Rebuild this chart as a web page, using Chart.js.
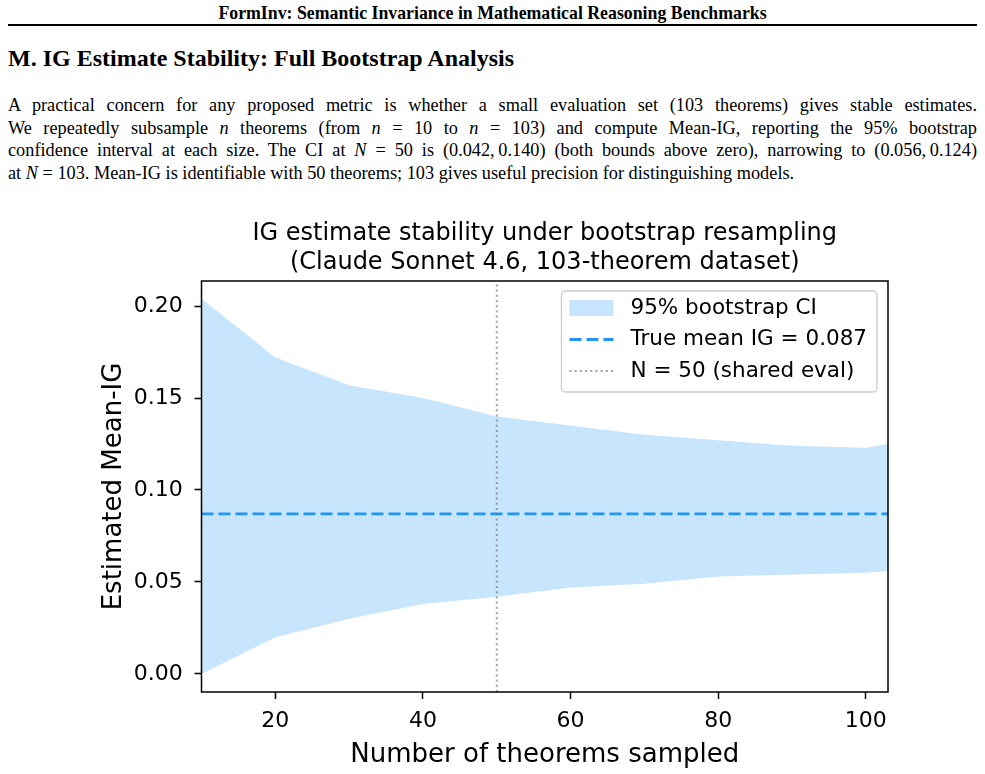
<!DOCTYPE html>
<html>
<head>
<meta charset="utf-8">
<script src="https://cdn.jsdelivr.net/npm/chart.js@4.4.1/dist/chart.umd.min.js"></script>
<style>
  body { margin: 0; background: #fff; width: 985px; height: 774px; position: relative; overflow: hidden; }
  .serif { font-family: "Liberation Serif", "Times New Roman", serif; color: #000; }
  .runhead { position: absolute; top: 3px; left: 0; width: 985px; text-align: center; font-weight: bold; font-size: 17.8px; line-height: 20px; }
  .rule { position: absolute; top: 24px; left: 8px; width: 969px; height: 2px; background: #000; }
  .section { position: absolute; top: 44px; left: 8px; font-weight: bold; font-size: 24px; line-height: 28px; }
  .line { position: absolute; left: 8px; width: 969px; font-size: 18.3px; line-height: 22px; white-space: nowrap; }
  .just { text-align: justify; text-align-last: justify; white-space: normal; }
  .chart-render { position: absolute; left: 0; top: 200px; width: 985px; height: 574px; }
</style>
</head>
<body>
<div class="serif runhead">FormInv: Semantic Invariance in Mathematical Reasoning Benchmarks</div>
<div class="rule"></div>
<div class="serif section">M. IG Estimate Stability: Full Bootstrap Analysis</div>
<div class="serif line just" style="top:94px">A practical concern for any proposed metric is whether a small evaluation set (103 theorems) gives stable estimates.</div>
<div class="serif line just" style="top:117px">We repeatedly subsample <i>n</i> theorems (from <i>n</i>&nbsp;=&nbsp;10 to <i>n</i>&nbsp;=&nbsp;103) and compute Mean-IG, reporting the 95% bootstrap</div>
<div class="serif line just" style="top:139px">confidence interval at each size. The CI at <i>N</i>&nbsp;=&nbsp;50 is (0.042,&thinsp;0.140) (both bounds above zero), narrowing to (0.056,&thinsp;0.124)</div>
<div class="serif line" style="top:162px">at <i>N</i>&nbsp;=&nbsp;103. Mean-IG is identifiable with 50 theorems; 103 gives useful precision for distinguishing models.</div>

<div class="chart-render">
  <canvas id="stability" width="985" height="574"></canvas>
</div>

<script>
// values
const sampleSizes = [10, 20, 30, 40, 50, 60, 70, 80, 90, 100, 103];
const ciUpper = [0.204, 0.172, 0.157, 0.150, 0.140, 0.135, 0.130, 0.127, 0.124, 0.123, 0.125];
const ciLower = [0.000, 0.020, 0.030, 0.038, 0.042, 0.047, 0.049, 0.053, 0.054, 0.055, 0.056];
const trueMeanIG = 0.087;
const sharedEvalN = 50;

const xTickValues = [20, 40, 60, 80, 100];
const yTickValues = [0.00, 0.05, 0.10, 0.15, 0.20];
const xRange = [10, 103];
const yRange = [-0.0098, 0.2136];

const FONT = '"DejaVu Sans", sans-serif';
const blue = '#2196F3';

// full box around the axes, like matplotlib spines
const framePlugin = {
  id: 'frame',
  afterDatasetsDraw(chart) {
    const { ctx, chartArea: a } = chart;
    ctx.save();
    ctx.strokeStyle = '#000';
    ctx.lineWidth = 1.5;
    ctx.strokeRect(a.left, a.top, a.right - a.left, a.bottom - a.top);
    ctx.restore();
  }
};

// legend drawn inside the plot (upper right)
const innerLegend = {
  id: 'innerLegend',
  afterDraw(chart) {
    const { ctx, chartArea } = chart;
    const items = chart.data.datasets.filter(d => d.label);
    ctx.save();
    ctx.font = '21.5px ' + FONT;
    const textW = Math.max(...items.map(d => ctx.measureText(d.label).width));
    const w = 8 + 44 + 17 + textW + 10;
    const h = 101;
    const x0 = chartArea.right - 11 - w;
    const y0 = chartArea.top + 10;

    ctx.beginPath();
    ctx.roundRect(x0, y0, w, h, 4);
    ctx.fillStyle = 'rgba(255,255,255,0.8)';
    ctx.fill();
    ctx.strokeStyle = '#cccccc';
    ctx.lineWidth = 1.3;
    ctx.stroke();

    items.forEach((d, i) => {
      const cy = y0 + 17 + i * 31.5;
      const hx = x0 + 8;
      if (d.fill) {
        ctx.fillStyle = d.backgroundColor;
        ctx.fillRect(hx, cy - 8, 44, 16);
      } else {
        ctx.setLineDash(d.borderDash || []);
        ctx.strokeStyle = d.borderColor;
        ctx.lineWidth = d.borderWidth;
        ctx.beginPath();
        ctx.moveTo(hx, cy);
        ctx.lineTo(hx + 44, cy);
        ctx.stroke();
        ctx.setLineDash([]);
      }
      ctx.fillStyle = '#000';
      ctx.textBaseline = 'middle';
      ctx.textAlign = 'left';
      ctx.fillText(d.label, hx + 44 + 17, cy);
    });
    ctx.restore();
  }
};

const toPoints = (xs, ys) => xs.map((x, i) => ({ x: x, y: ys[i] }));

const datasets = [
  {
    label: '95% bootstrap CI',
    data: toPoints(sampleSizes, ciUpper),
    borderWidth: 0,
    borderColor: 'rgba(0,0,0,0)',
    backgroundColor: 'rgba(33,150,243,0.25)',
    fill: '+1',
    pointRadius: 0,
    order: 3,
  },
  {
    data: toPoints(sampleSizes, ciLower),
    borderWidth: 0,
    borderColor: 'rgba(0,0,0,0)',
    fill: false,
    pointRadius: 0,
    order: 2,
  },
  {
    label: 'True mean IG = 0.087',
    data: toPoints(xRange, [trueMeanIG, trueMeanIG]),
    borderColor: blue,
    borderWidth: 2.8,
    borderDash: [12, 5],
    fill: false,
    pointRadius: 0,
    order: 1,
  },
  {
    label: 'N = 50 (shared eval)',
    data: toPoints([sharedEvalN, sharedEvalN], yRange),
    borderColor: 'rgba(120,120,120,0.7)',
    borderWidth: 2,
    borderDash: [2, 3.2],
    fill: false,
    pointRadius: 0,
    order: 0,
  },
];

const tickGrid = {
  drawOnChartArea: false,
  drawTicks: true,
  tickLength: 7,
  tickWidth: 1.5,
  tickColor: '#000',
};

const chartConfig = {
  type: 'line',
  data: { datasets: datasets },
  options: {
    responsive: false,
    animation: false,
    events: [],
    layout: { padding: { left: 95, right: 97, top: 0, bottom: 0 } },
    scales: {
      x: {
        type: 'linear',
        min: xRange[0],
        max: xRange[1],
        afterBuildTicks: s => { s.ticks = xTickValues.map(v => ({ value: v })); },
        afterFit: s => { s.height = 82; },
        ticks: { color: '#000', font: { family: FONT, size: 22 }, padding: 9.5, maxRotation: 0 },
        grid: tickGrid,
        border: { display: false },
        title: {
          display: true,
          text: 'Number of theorems sampled',
          color: '#000',
          font: { family: FONT, size: 26, lineHeight: 1.2 },
          padding: { top: 0, bottom: 3.6 },
        },
      },
      y: {
        type: 'linear',
        min: yRange[0],
        max: yRange[1],
        afterBuildTicks: s => { s.ticks = yTickValues.map(v => ({ value: v })); },
        afterFit: s => { s.width = 106.5; },
        ticks: {
          color: '#000',
          font: { family: FONT, size: 22 },
          padding: 11.8,
          callback: v => Number(v).toFixed(2),
        },
        grid: tickGrid,
        border: { display: false },
        title: {
          display: true,
          text: 'Estimated Mean-IG',
          color: '#000',
          font: { family: FONT, size: 26, lineHeight: 1.2 },
          padding: { top: 4, bottom: 0 },
        },
      },
    },
    plugins: {
      legend: { display: false },
      tooltip: { enabled: false },
      title: {
        display: true,
        fullSize: false,
        text: ['IG estimate stability under bootstrap resampling', '(Claude Sonnet 4.6, 103-theorem dataset)'],
        color: '#000',
        font: { family: FONT, size: 24, weight: 'normal', lineHeight: 1.2 },
        padding: { top: 19.2, bottom: 4.2 },
      },
    },
  },
  plugins: [framePlugin, innerLegend],
};

const ctx = document.getElementById('stability').getContext('2d');
new Chart(ctx, chartConfig);
</script>
</body>
</html>
